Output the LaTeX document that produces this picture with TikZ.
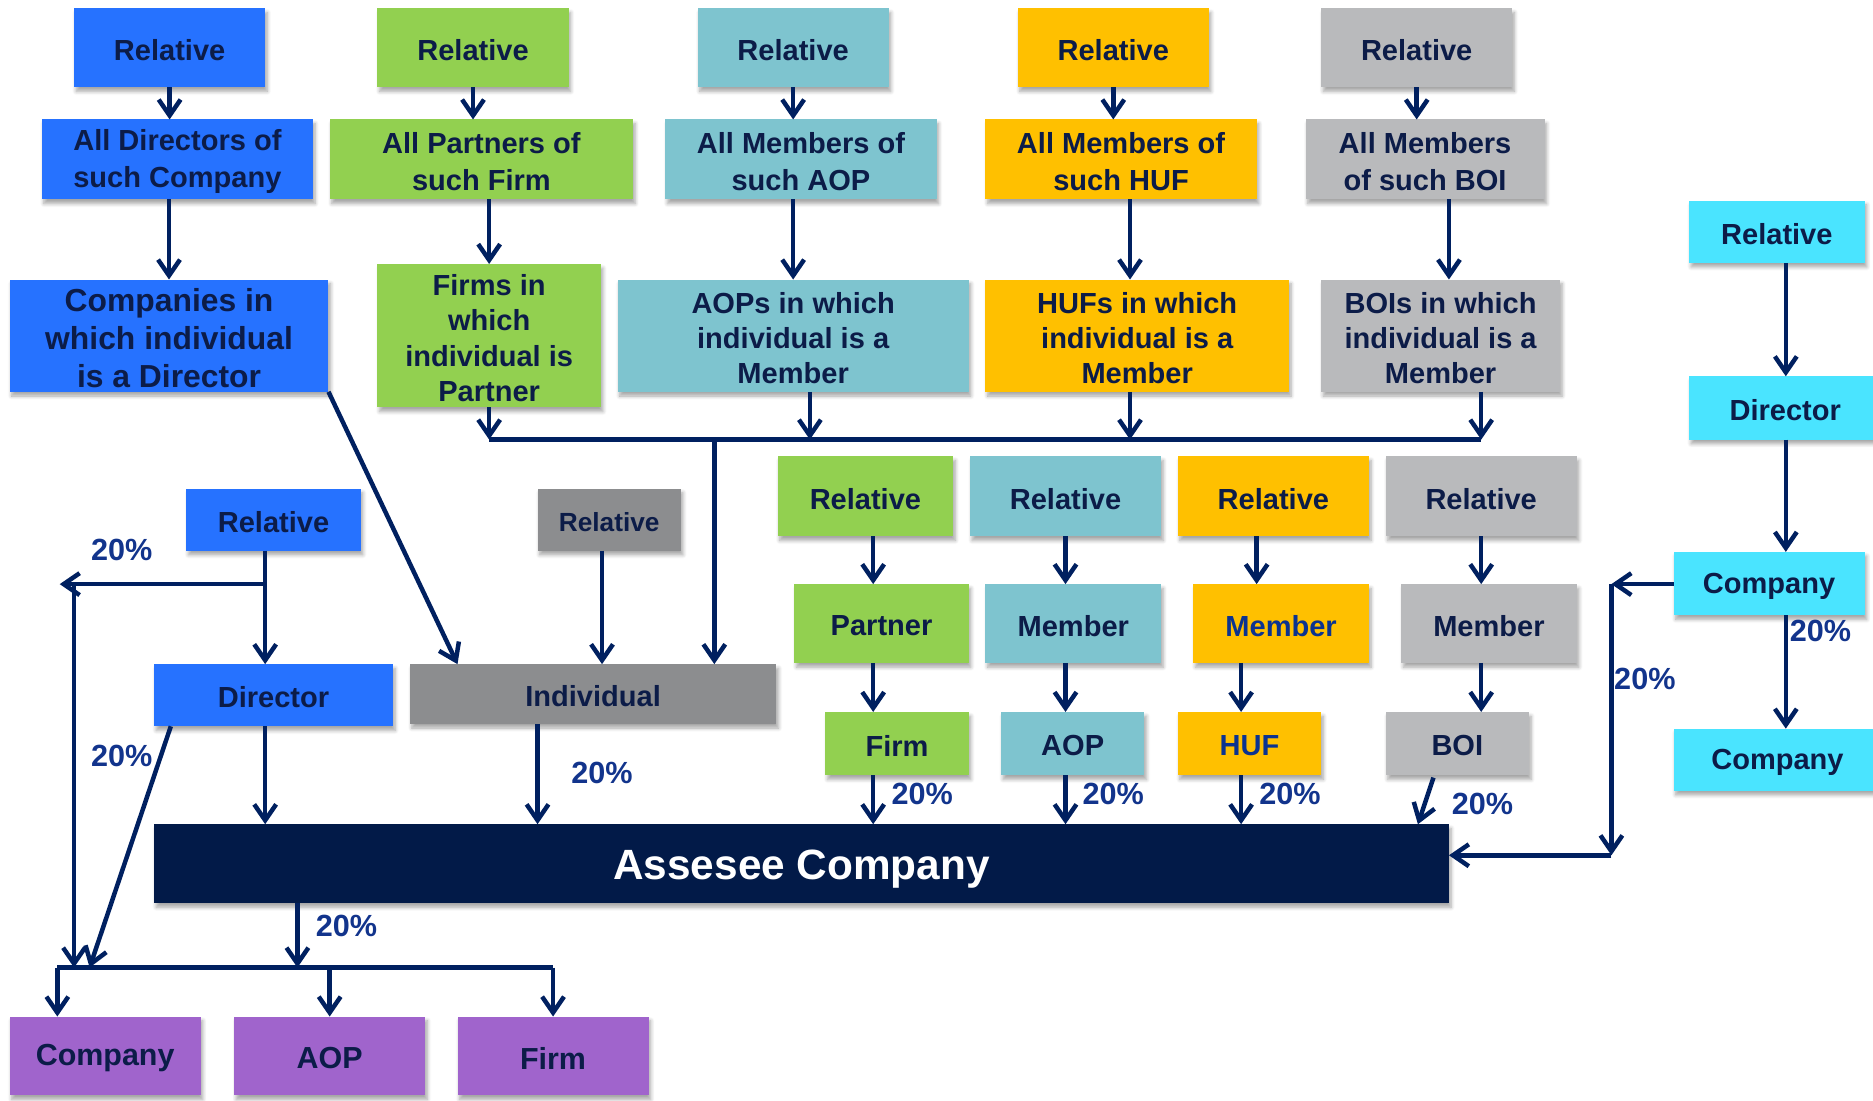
\documentclass[tikz,border=0pt]{standalone}
\usepackage{fontspec}
\setmainfont{Liberation Sans}
\usetikzlibrary{arrows.meta,shadows.blur,calc}
\definecolor{cBlue}{HTML}{2672FF}
\definecolor{cGreen}{HTML}{92D050}
\definecolor{cTeal}{HTML}{7EC4CF}
\definecolor{cOrange}{HTML}{FFC000}
\definecolor{cLGray}{HTML}{B9BABC}
\definecolor{cDGray}{HTML}{8C8D8F}
\definecolor{cCyan}{HTML}{4AE4FF}
\definecolor{cPurple}{HTML}{A064CC}
\definecolor{cNavy}{HTML}{021A48}
\definecolor{cLine}{HTML}{002060}
\definecolor{cText}{HTML}{0C1C48}
\definecolor{cBlueText}{HTML}{0B3390}
\definecolor{cPct}{HTML}{12348C}

\tikzset{
  box/.style={inner sep=0pt, outer sep=0pt,
    blur shadow={shadow xshift=1.2pt, shadow yshift=-2.4pt, shadow blur steps=6, shadow opacity=35}},
  txt/.style={inner sep=0pt, align=center, text=cText,
    font=\bfseries\fontsize{16.6}{21}\selectfont},
  arr/.style={draw=cLine, line width=0.9mm, -{Straight Barb[length=3.2mm,width=4.4mm]}},
  ln/.style={draw=cLine, line width=0.9mm},
  pct/.style={text=cPct, font=\bfseries\fontsize{17.5}{20}\selectfont, inner sep=0pt},
}
% box given by its corners: name, x1, y1, x2, y2, fill, text options, text
\newcommand\bx[8]{%
  \node[box,fill=#6,minimum width={(#4-#2)*0.24mm},minimum height={(#5-#3)*0.24mm}]
    (#1) at ({(#2+#4)/2},{(#3+#5)/2}) {};
  \node[txt,#7] (#1-t) at ($(#1.center)+(0,2)$) {#8};}

\begin{document}
\begin{tikzpicture}[x=0.24mm,y=-0.24mm]
\useasboundingbox (0,0) rectangle (1568,921);

% ---- top rows ----
\bx{rB}{62}{7}{222}{73}{cBlue}{}{Relative}
\bx{rG}{316}{7}{476}{73}{cGreen}{}{Relative}
\bx{rT}{584}{7}{744}{73}{cTeal}{}{Relative}
\bx{rO}{852}{7}{1012}{73}{cOrange}{}{Relative}
\bx{rL}{1106}{7}{1266}{73}{cLGray}{}{Relative}

\bx{aB}{35}{100}{262}{167}{cBlue}{}{All Directors of\\such Company}
\bx{aG}{276}{100}{530}{167}{cGreen}{}{All Partners of\\such Firm}
\bx{aT}{557}{100}{784}{167}{cTeal}{}{All Members of\\such AOP}
\bx{aO}{825}{100}{1052}{167}{cOrange}{}{All Members of\\such HUF}
\bx{aL}{1093}{100}{1293}{167}{cLGray}{}{All Members\\of such BOI}

\bx{cB}{8}{234}{275}{328}{cBlue}{font=\bfseries\fontsize{18.2}{21.5}\selectfont}{Companies in\\which individual\\is a Director}
\bx{cG}{316}{221}{503}{341}{cGreen}{font=\bfseries\fontsize{16.6}{20.2}\selectfont}{Firms in\\which\\individual is\\Partner}
\bx{cT}{517}{234}{811}{328}{cTeal}{font=\bfseries\fontsize{16.6}{20.2}\selectfont}{AOPs in which\\individual is a\\Member}
\bx{cO}{825}{234}{1079}{328}{cOrange}{font=\bfseries\fontsize{16.6}{20.2}\selectfont}{HUFs in which\\individual is a\\Member}
\bx{cL}{1106}{234}{1306}{328}{cLGray}{font=\bfseries\fontsize{16.6}{20.2}\selectfont}{BOIs in which\\individual is a\\Member}

% ---- right column ----
\bx{rC}{1414}{168}{1561}{220}{cCyan}{}{Relative}
\bx{dC}{1414}{315}{1575}{368}{cCyan}{}{Director}
\bx{kA}{1401}{462}{1561}{515}{cCyan}{}{Company}
\bx{kB}{1401}{610}{1575}{662}{cCyan}{}{Company}

% ---- middle block ----
\bx{rG2}{651}{382}{798}{449}{cGreen}{}{Relative}
\bx{rT2}{812}{382}{972}{449}{cTeal}{}{Relative}
\bx{rO2}{986}{382}{1146}{449}{cOrange}{}{Relative}
\bx{rL2}{1160}{382}{1320}{449}{cLGray}{}{Relative}
\bx{pG}{665}{489}{811}{555}{cGreen}{}{Partner}
\bx{mT}{825}{489}{972}{555}{cTeal}{}{Member}
\bx{mO}{999}{489}{1146}{555}{cOrange}{text=cBlueText}{Member}
\bx{mL}{1173}{489}{1320}{555}{cLGray}{}{Member}
\bx{fG}{691}{596}{811}{649}{cGreen}{}{Firm}
\bx{oT}{838}{596}{958}{649}{cTeal}{}{AOP}
\bx{hO}{986}{596}{1106}{649}{cOrange}{text=cBlueText}{HUF}
\bx{bL}{1160}{596}{1280}{649}{cLGray}{}{BOI}

% ---- left block ----
\bx{rB2}{156}{409}{302}{461}{cBlue}{}{Relative}
\bx{rD}{450}{409}{570}{461}{cDGray}{font=\bfseries\fontsize{15}{18}\selectfont}{Relative}
\bx{dB}{129}{556}{329}{608}{cBlue}{}{Director}
\bx{ind}{343}{556}{650}{606}{cDGray}{}{Individual}
\bx{ass}{129}{690}{1213}{756}{cNavy}{text=white,font=\bfseries\fontsize{24.2}{28}\selectfont,yshift=-0.6mm}{Assesee Company}
\bx{pC}{8}{851}{168}{917}{cPurple}{font=\bfseries\fontsize{17.4}{21}\selectfont}{Company}
\bx{pA}{196}{851}{356}{917}{cPurple}{font=\bfseries\fontsize{17.4}{21}\selectfont}{AOP}
\bx{pF}{383}{851}{543}{917}{cPurple}{font=\bfseries\fontsize{17.4}{21}\selectfont}{Firm}

% ---- helper coordinates ----
\coordinate (xO) at (946,0);
\coordinate (xL) at (1213,0);
\coordinate (xT) at (678,0);
\coordinate (xL2) at (1240,0);
\coordinate (xI) at (598,0);
\coordinate (bus) at (0,368);
\coordinate (xC) at (1495,0);
\coordinate (cor1) at (1349,489);
\coordinate (cor2) at (1349,716);
\coordinate (x1) at (731,0);
\coordinate (x2) at (892,0);
\coordinate (x3a) at (1052,0);
\coordinate (x3b) at (1039,0);
\coordinate (x4) at (1240,0);
\coordinate (xR) at (222,0);
\coordinate (jn) at (222,489);
\coordinate (lt) at (50,489);
\coordinate (lv) at (62,489);
\coordinate (pbus) at (0,810);
\coordinate (xD) at (504,0);
\coordinate (xIn) at (450,0);
\coordinate (xA) at (249,0);
\coordinate (xp1) at (48,0);

% ---- connectors: top columns ----
\draw[arr] (rB.south) -- (rB.south |- aB.north);
\draw[arr] (cB.north |- aB.south) -- (cB.north);
\draw[arr] (rG.south) -- (rG.south |- aG.north);
\draw[arr] (cG.north |- aG.south) -- (cG.north);
\draw[arr] (rT.south) -- (rT.south |- aT.north);
\draw[arr] (cT.north |- aT.south) -- (cT.north);
\draw[arr] (rO.south) -- (rO.south |- aO.north);
\draw[arr] (xO |- aO.south) -- (xO |- cO.north);
\draw[arr] (rL.south) -- (rL.south |- aL.north);
\draw[arr] (xL |- aL.south) -- (xL |- cL.north);

% collecting line into the individual
\draw[arr] (cG.south) -- (cG.south |- bus);
\draw[arr] (xT |- cT.south) -- (xT |- bus);
\draw[arr] (xO |- cO.south) -- (xO |- bus);
\draw[arr] (xL2 |- cL.south) -- (xL2 |- bus);
\draw[ln] (cG.south |- bus) -- (xL2 |- bus);
\draw[arr] (xI |- bus) -- (xI |- ind.north);
\draw[arr] (cB.south east) -- ($(ind.north west)+(40,0)$);

% ---- right column ----
\draw[arr] (xC |- rC.south) -- (xC |- dC.north);
\draw[arr] (xC |- dC.south) -- (xC |- kA.north);
\draw[arr] (xC |- kA.south) -- (xC |- kB.north);
\draw[arr] (kA.west |- cor1) -- (cor1);
\draw[arr] (cor1) -- (cor2);
\draw[arr] (cor2) -- (cor2 -| ass.east);

% ---- middle block ----
\draw[arr] (x1 |- rG2.south) -- (x1 |- pG.north);
\draw[arr] (x2 |- rT2.south) -- (x2 |- mT.north);
\draw[arr] (x3a |- rO2.south) -- (x3a |- mO.north);
\draw[arr] (x4 |- rL2.south) -- (x4 |- mL.north);
\draw[arr] (x1 |- pG.south) -- (x1 |- fG.north);
\draw[arr] (x2 |- mT.south) -- (x2 |- oT.north);
\draw[arr] (x3b |- mO.south) -- (x3b |- hO.north);
\draw[arr] (x4 |- mL.south) -- (x4 |- bL.north);
\draw[arr] (x1 |- fG.south) -- (x1 |- ass.north);
\draw[arr] (x2 |- oT.south) -- (x2 |- ass.north);
\draw[arr] (x3b |- hO.south) -- (x3b |- ass.north);
\draw[arr] ($(bL.south)+(-20,2)$) -- ($(bL.south |- ass.north)+(-33,0)$);

% ---- left block ----
\draw[arr] (xR |- rB2.south) -- (xR |- dB.north);
\draw[arr] (jn) -- (lt);
\draw[arr] (lv) -- (lv |- pbus);
\draw[arr] ($(dB.south west)+(14,0)$) -- ($(lv |- pbus)+(13,0)$);
\draw[arr] (xR |- dB.south) -- (xR |- ass.north);
\draw[arr] (xD |- rD.south) -- (xD |- ind.north);
\draw[arr] (xIn |- ind.south) -- (xIn |- ass.north);
\draw[arr] (xA |- ass.south) -- (xA |- pbus);
\draw[ln] (xp1 |- pbus) -- (pF.north |- pbus);
\draw[arr] (xp1 |- pbus) -- (xp1 |- pC.north);
\draw[arr] (pA.north |- pbus) -- (pA.north);
\draw[arr] (pF.north |- pbus) -- (pF.north);

% ---- percentage labels ----
\node[pct] (p1) at (102,460) {20\%};
\node[pct] (p2) at (102,633) {20\%};
\node[pct] (p3) at (504,647) {20\%};
\node[pct] (p4) at (290,775) {20\%};
\node[pct] (p5) at (772,665) {20\%};
\node[pct] (p6) at (932,665) {20\%};
\node[pct] (p7) at (1080,665) {20\%};
\node[pct] (p8) at (1241,673) {20\%};
\node[pct] (p9) at (1377,568) {20\%};
\node[pct] (p10) at (1524,528) {20\%};
\end{tikzpicture}
\end{document}
